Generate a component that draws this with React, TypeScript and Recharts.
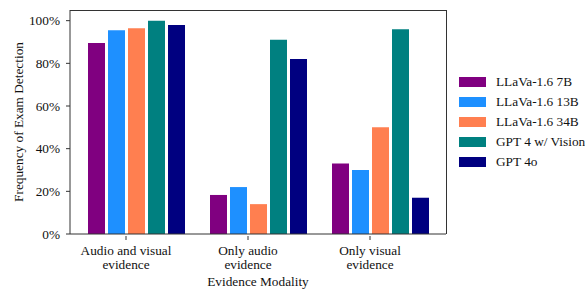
import { Bar, BarChart, XAxis, YAxis } from "recharts";

const categories = [
  ["Audio and visual", "evidence"],
  ["Only audio", "evidence"],
  ["Only visual", "evidence"],
];

const llava7b = [89.5, 18.3, 33];
const llava13b = [95.5, 22, 30];
const llava34b = [96.5, 14, 50];
const gpt4v = [100, 91, 96];
const gpt4o = [98, 82, 17];

const yTicks = [0, 20, 40, 60, 80, 100];

const series = [
  { key: "llava7b", name: "LLaVa-1.6 7B", color: "#800080" },
  { key: "llava13b", name: "LLaVa-1.6 13B", color: "#1E90FF" },
  { key: "llava34b", name: "LLaVa-1.6 34B", color: "#FF7F50" },
  { key: "gpt4v", name: "GPT 4 w/ Vision", color: "#008080" },
  { key: "gpt4o", name: "GPT 4o", color: "#000080" },
];

const data = categories.map((c, i) => ({
  cat: c.join(" "),
  llava7b: llava7b[i],
  llava13b: llava13b[i],
  llava34b: llava34b[i],
  gpt4v: gpt4v[i],
  gpt4o: gpt4o[i],
}));

const font = "'Liberation Serif', serif";
const fs = 13.3;

const CatTick = (props: any) => {
  const { x, y, index } = props;
  const lines = categories[index] || [];
  const tx = x - 10;
  return (
    <g>
      <line x1={tx} x2={tx} y1={y - 4} y2={y} stroke="#333" strokeWidth={1} />
      <text x={tx} y={y + 15} textAnchor="middle" fontFamily={font} fontSize={fs} fill="#111">
        {lines.map((l: string, k: number) => (
          <tspan key={k} x={tx} dy={k === 0 ? 0 : 14}>
            {l}
          </tspan>
        ))}
      </text>
    </g>
  );
};

const LegendBox = () => (
  <div
    style={{
      position: "absolute",
      left: 459,
      top: 72,
      fontFamily: font,
      fontSize: fs,
      color: "#111",
    }}
  >
    {series.map((s) => (
      <div key={s.key} style={{ display: "flex", alignItems: "center", height: 20 }}>
        <div style={{ width: 27, height: 10, background: s.color, marginRight: 10 }} />
        <span style={{ whiteSpace: "nowrap" }}>{s.name}</span>
      </div>
    ))}
  </div>
);

export default function App() {
  return (
    <div
      style={{
        position: "absolute",
        left: 0,
        top: 0,
        width: 585,
        height: 291,
        overflow: "hidden",
        background: "#fff",
      }}
    >
      <BarChart
        width={585}
        height={291}
        data={data}
        margin={{ top: 10, right: 139, bottom: 0, left: 10 }}
        barGap={3}
        barSize={17}
      >
        <XAxis
          dataKey="cat"
          height={57}
          padding={{ left: 5, right: 5 }}
          stroke="#333"
          tickLine={false}
          tickSize={4}
          tick={<CatTick />}
          interval={0}
        />
        <YAxis
          width={60}
          domain={[0, 105]}
          ticks={yTicks}
          tickFormatter={(v) => `${v}%`}
          stroke="#333"
          tickSize={4}
          tickMargin={6}
          tick={{ fontFamily: font, fontSize: fs, fill: "#111" }}
        />
        {series.map((s) => (
          <Bar key={s.key} dataKey={s.key} name={s.name} fill={s.color} isAnimationActive={false} />
        ))}
      </BarChart>
      {/* top and right spines */}
      <div
        style={{
          position: "absolute",
          left: 70,
          top: 9.5,
          width: 376.5,
          height: 224.5,
          boxSizing: "border-box",
          borderTop: "1px solid #333",
          borderRight: "1px solid #333",
          pointerEvents: "none",
        }}
      />
      <LegendBox />
      <div
        style={{
          position: "absolute",
          left: 19,
          top: 122,
          transform: "translate(-50%, -50%) rotate(-90deg)",
          fontFamily: font,
          fontSize: fs,
          color: "#111",
          whiteSpace: "nowrap",
        }}
      >
        Frequency of Exam Detection
      </div>
      <div
        style={{
          position: "absolute",
          left: 258,
          top: 282,
          transform: "translate(-50%, -50%)",
          fontFamily: font,
          fontSize: fs,
          color: "#111",
          whiteSpace: "nowrap",
        }}
      >
        Evidence Modality
      </div>
    </div>
  );
}
